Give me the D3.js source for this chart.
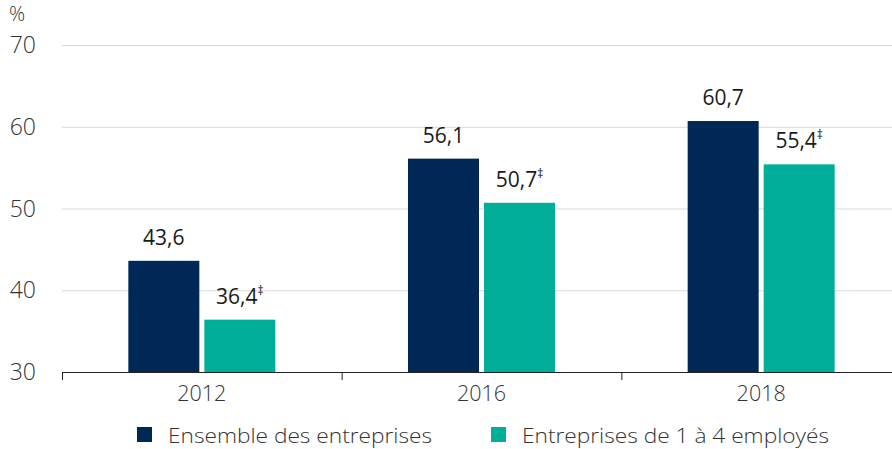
<!DOCTYPE html>
<html><head><meta charset="utf-8">
<script src="https://cdn.jsdelivr.net/npm/d3@7"></script>
<style>body{margin:0;background:#fff}svg{display:block;font-family:"Open Sans",sans-serif}</style>
</head><body><svg id="c" width="892" height="449"></svg>
<script>
const categories = ["2012", "2016", "2018"];
const seriesNames = ["Ensemble des entreprises", "Entreprises de 1 à 4 employés"];
const ensemble = [43.6, 56.1, 60.7];
const petites = [36.4, 50.7, 55.4];
const labelsEnsemble = ["43,6", "56,1", "60,7"];
const labelsPetites = ["36,4", "50,7", "55,4"];
const yTicks = [30, 40, 50, 60, 70];
const colors = ["#002856", "#00ae99"];

(function () {
const svg = d3.select("#c");
const mLeft = 62, mRight = 901, mTop = 45, mBottom = 372;
const x = d3.scaleBand().domain(categories).range([mLeft, mRight]).paddingInner(0).paddingOuter(0);
const y = d3.scaleLinear().domain([30, 70]).range([mBottom, mTop]);
const barW = 71, gap = 5;

svg.append("g").selectAll("line").data(yTicks.filter(t => t > 30)).join("line")
  .attr("x1", mLeft).attr("x2", 892).attr("y1", d => y(d) + 0.5).attr("y2", d => y(d) + 0.5)
  .attr("stroke", "#d9d9d9").attr("stroke-width", 1);

svg.append("g").selectAll("text").data(yTicks).join("text")
  .attr("x", 36).attr("y", d => y(d) + 8).attr("text-anchor", "end")
  .attr("font-size", 23).attr("font-weight", 300).attr("fill", "#333").text(d => d);
svg.append("text").attr("x", 9).attr("y", 21).attr("font-size", 20).attr("font-weight", 300).attr("fill", "#333").text("%");

const series = [ensemble, petites];
const labs = [labelsEnsemble, labelsPetites];
series.forEach((vals, si) => {
  const g = svg.append("g");
  const xo = c => x(c) + x.bandwidth() / 2 + (si === 0 ? -gap / 2 - barW : gap / 2);
  g.selectAll("rect").data(categories).join("rect")
    .attr("x", xo).attr("width", barW)
    .attr("y", (c, i) => y(vals[i])).attr("height", (c, i) => y(30) - y(vals[i]))
    .attr("fill", colors[si]);
  const t = g.selectAll("text").data(categories).join("text")
    .attr("x", c => xo(c) + barW / 2).attr("y", (c, i) => y(vals[i]) - 16)
    .attr("text-anchor", "middle").attr("font-size", 21).attr("fill", "#1a1a1a");
  t.append("tspan").text((c, i) => labs[si][i]);
  if (si === 1) t.append("tspan").attr("font-size", 12).attr("dy", -9).text("‡");
});

const ax = svg.append("g");
ax.append("line").attr("x1", mLeft).attr("x2", 892).attr("y1", mBottom + 0.5).attr("y2", mBottom + 0.5).attr("stroke", "#222");
ax.selectAll("line.tk").data(categories).join("line").attr("class", "tk")
  .attr("x1", c => x(c) + 0.5).attr("x2", c => x(c) + 0.5).attr("y1", mBottom).attr("y2", mBottom + 8).attr("stroke", "#222");
ax.selectAll("text").data(categories).join("text")
  .attr("x", c => x(c) + x.bandwidth() / 2).attr("y", mBottom + 29).attr("text-anchor", "middle")
  .attr("font-size", 21.5).attr("font-weight", 300).attr("fill", "#333").text(c => c);

const legX = [137, 491];
const legW = [264, 307];
seriesNames.forEach((n, i) => {
  svg.append("rect").attr("x", legX[i]).attr("y", 427).attr("width", 15).attr("height", 15).attr("fill", colors[i]);
  svg.append("text").attr("x", legX[i] + 31).attr("y", 443).attr("font-size", 20.5).attr("font-weight", 300)
    .attr("fill", "#333").attr("textLength", legW[i]).attr("lengthAdjust", "spacingAndGlyphs").text(n);
});
})();
</script></body></html>
